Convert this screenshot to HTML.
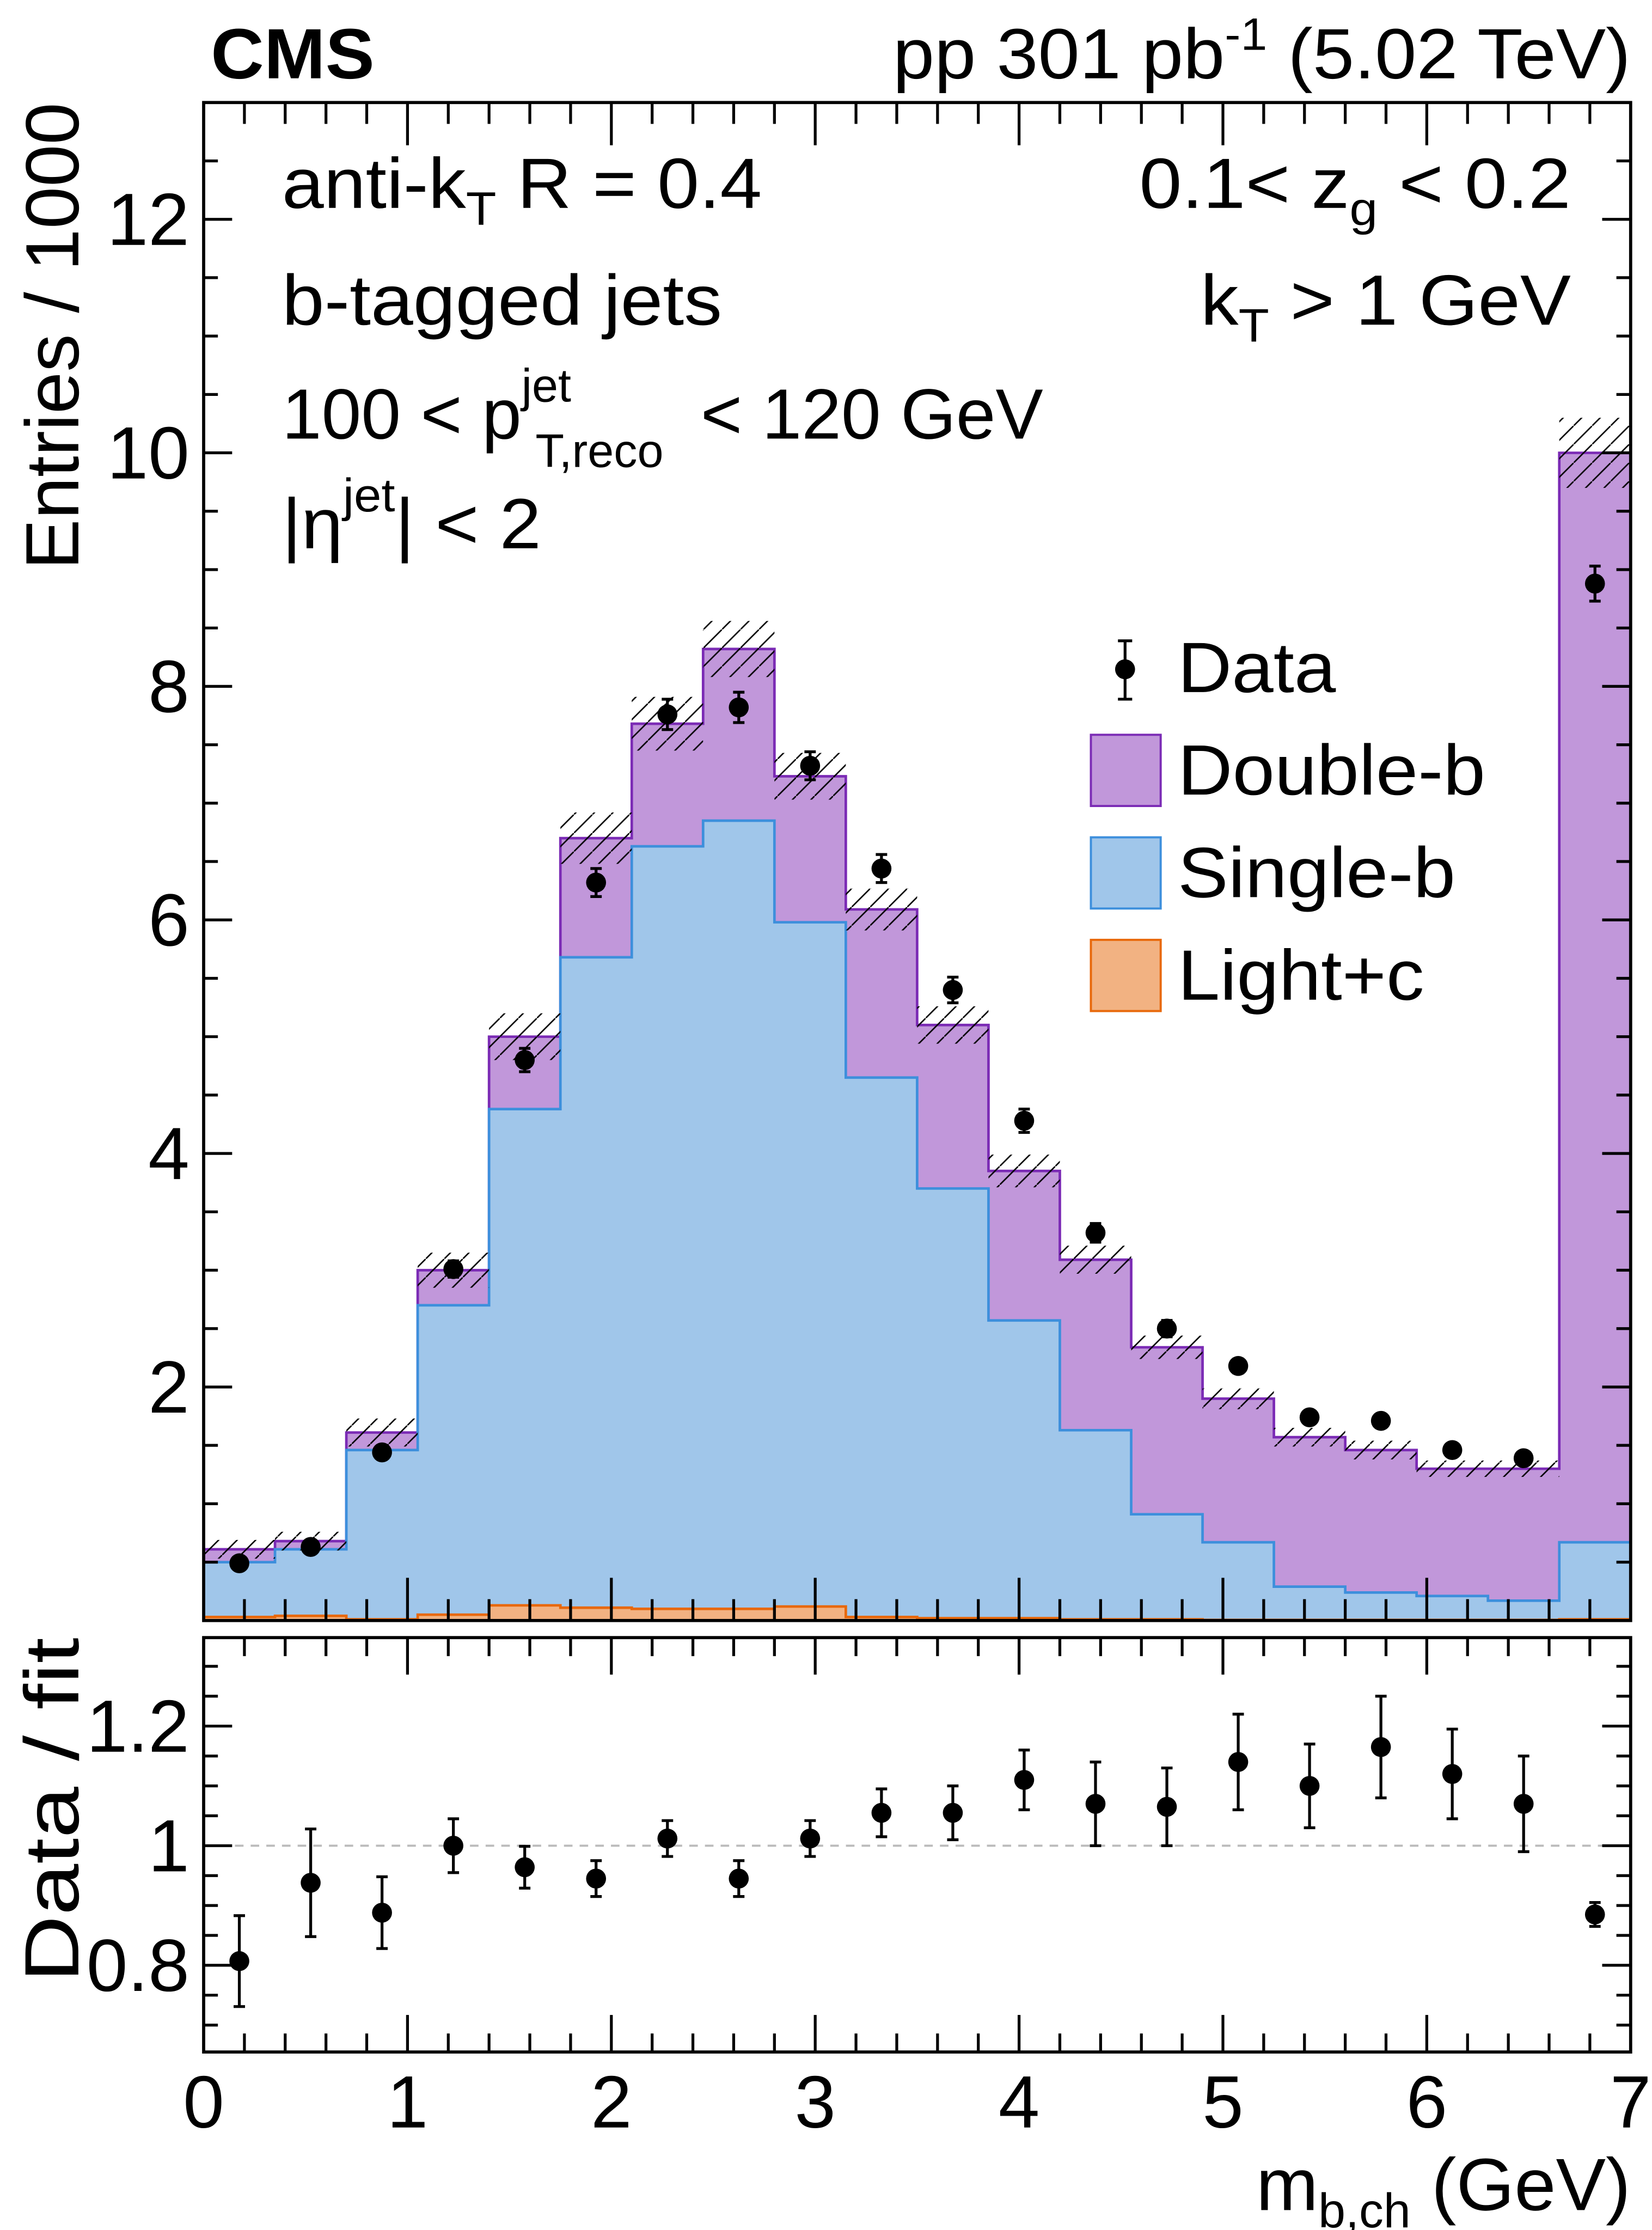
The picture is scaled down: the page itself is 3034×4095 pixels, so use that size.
<!DOCTYPE html>
<html><head><meta charset="utf-8">
<style>
html,body{margin:0;padding:0;background:#fff;}
svg{display:block;font-family:"Liberation Sans",Arial,sans-serif;}
</style></head>
<body>
<svg id="chart" width="3034" height="4095" viewBox="0 0 1160 1566" preserveAspectRatio="none" xmlns="http://www.w3.org/2000/svg">
<defs>
<pattern id="hatch" patternUnits="userSpaceOnUse" width="13" height="13">
<line x1="0" y1="13" x2="13" y2="0" stroke="#000" stroke-width="1"/>
</pattern>
</defs>
<g id="main"></g>
<g id="ratio"></g>
<g id="texts">
<text x="148" y="55" font-size="50" font-weight="bold" textLength="115" lengthAdjust="spacingAndGlyphs">CMS</text>
<text x="627" y="55" font-size="50" textLength="518" lengthAdjust="spacingAndGlyphs">pp 301 pb<tspan dy="-20" font-size="32">-1</tspan><tspan dy="20"> (5.02 TeV)</tspan></text>
<text transform="translate(55,400) rotate(-90)" font-size="53" textLength="328" lengthAdjust="spacingAndGlyphs">Entries / 1000</text>
<text transform="translate(55,1392) rotate(-90)" font-size="54" textLength="242" lengthAdjust="spacingAndGlyphs">Data / fit</text>
<text x="882" y="1552" font-size="52" textLength="263" lengthAdjust="spacingAndGlyphs">m<tspan dy="12" font-size="34">b,ch</tspan><tspan dy="-12"> (GeV)</tspan></text>
<text x="198" y="146" font-size="50" textLength="337" lengthAdjust="spacingAndGlyphs">anti-k<tspan dy="12" font-size="33">T</tspan><tspan dy="-12"> R = 0.4</tspan></text>
<text x="198" y="228" font-size="50" textLength="309" lengthAdjust="spacingAndGlyphs">b-tagged jets</text>
<text x="198" y="308" font-size="50">100 &lt; p<tspan dy="-26" font-size="33">jet</tspan><tspan x="376" dy="46" font-size="33">T,reco</tspan><tspan x="492" dy="-20">&lt; 120 GeV</tspan></text>
<text x="198" y="385" font-size="50" textLength="182" lengthAdjust="spacingAndGlyphs">|η<tspan dy="-26" font-size="33">jet</tspan><tspan dy="26">| &lt; 2</tspan></text>
<text x="800" y="146" font-size="50" textLength="303" lengthAdjust="spacingAndGlyphs">0.1&lt; z<tspan dy="12" font-size="33">g</tspan><tspan dy="-12"> &lt; 0.2</tspan></text>
<text x="843" y="228" font-size="50" textLength="260" lengthAdjust="spacingAndGlyphs">k<tspan dy="12" font-size="33">T</tspan><tspan dy="-12"> &gt; 1 GeV</tspan></text>
</g>
<g id="legend">
<g>
<line x1="790" y1="450" x2="790" y2="491" stroke="#000" stroke-width="2"/>
<line x1="785" y1="450" x2="795" y2="450" stroke="#000" stroke-width="2"/>
<line x1="785" y1="491" x2="795" y2="491" stroke="#000" stroke-width="2"/>
<circle cx="790" cy="470" r="7" fill="#000"/>
<text x="827" y="486" font-size="50" textLength="111" lengthAdjust="spacingAndGlyphs">Data</text></g>
<g>
<rect x="766" y="516" width="49" height="50" fill="#c197da" stroke="#7b2bb5" stroke-width="1.5"/>
<text x="827" y="558" font-size="50" textLength="216" lengthAdjust="spacingAndGlyphs">Double-b</text></g>
<g>
<rect x="766" y="588" width="49" height="50" fill="#a0c6ea" stroke="#3d8fdc" stroke-width="1.5"/>
<text x="827" y="630" font-size="50" textLength="195" lengthAdjust="spacingAndGlyphs">Single-b</text></g>
<g>
<rect x="766" y="660" width="49" height="50" fill="#f2b282" stroke="#e8680a" stroke-width="1.5"/>
<text x="827" y="702" font-size="50" textLength="173" lengthAdjust="spacingAndGlyphs">Light+c</text></g>
</g>
</svg>
<script>
const binEdgesMin = 0, binWidth = 0.35;
const totalMC = [0.61,0.68,1.61,3.0,5.0,6.7,7.68,8.32,7.23,6.09,5.1,3.85,3.09,2.34,1.9,1.57,1.46,1.30,1.30,10.0];
const singleB = [0.5,0.61,1.46,2.7,4.38,5.68,6.63,6.85,5.98,4.65,3.7,2.57,1.63,0.91,0.67,0.29,0.24,0.21,0.17,0.67];
const lightC = [0.03,0.04,0.01,0.05,0.13,0.11,0.1,0.1,0.12,0.03,0.02,0.02,0.01,0.01,0.005,0.005,0.005,0.005,0.005,0.01];
const mcUnc = [0.08,0.08,0.12,0.15,0.2,0.22,0.23,0.24,0.2,0.18,0.16,0.14,0.12,0.1,0.09,0.08,0.08,0.07,0.07,0.3];
const dataVals = [0.49,0.63,1.44,3.01,4.8,6.32,7.76,7.82,7.32,6.44,5.4,4.28,3.32,2.5,2.18,1.74,1.71,1.46,1.39,8.88];
const dataErr = [0.03,0.03,0.05,0.07,0.1,0.12,0.13,0.13,0.12,0.12,0.11,0.1,0.08,0.07,0.06,0.05,0.05,0.05,0.05,0.15];
const ratioVals = [0.807,0.938,0.888,1.0,0.964,0.945,1.012,0.945,1.012,1.055,1.055,1.11,1.07,1.065,1.14,1.1,1.165,1.12,1.07,0.885];
const ratioErr = [0.076,0.09,0.06,0.045,0.035,0.03,0.03,0.03,0.03,0.04,0.045,0.05,0.07,0.065,0.08,0.07,0.085,0.075,0.08,0.02];
const mainYTicks = ["2","4","6","8","10","12"];
const ratioYTicks = ["0.8","1","1.2"];
const xTicks = ["0","1","2","3","4","5","6","7"];

const NS = "http://www.w3.org/2000/svg";
const X0 = 143, X1 = 1145;
const xs = v => X0 + (v - 0) * (X1 - X0) / 7;
const M_TOP = 72, M_BOT = 1138;
const ys = v => M_BOT - (v / 13.0) * (M_BOT - M_TOP);
const R_TOP = 1150, R_BOT = 1441, R_MIN = 0.655, R_MAX = 1.348;
const yr = v => R_BOT - (v - R_MIN) / (R_MAX - R_MIN) * (R_BOT - R_TOP);
function el(tag, attrs, parent) {
  const e = document.createElementNS(NS, tag);
  for (const k in attrs) e.setAttribute(k, attrs[k]);
  parent.appendChild(e);
  return e;
}
const main = document.getElementById('main');
const ratio = document.getElementById('ratio');
const n = totalMC.length;
function stepPath(vals, yfun) {
  let d = `M${xs(0)},${yfun(0)}`;
  for (let i = 0; i < n; i++) {
    const a = xs(binEdgesMin + i * binWidth), b = xs(binEdgesMin + (i + 1) * binWidth);
    d += ` L${a},${yfun(vals[i])} L${b},${yfun(vals[i])}`;
  }
  d += ` L${xs(binEdgesMin + n * binWidth)},${yfun(0)} Z`;
  return d;
}
const pTot = el('path', {d: stepPath(totalMC, ys), fill: '#c197da', stroke: '#7b2bb5', 'stroke-width': 1.8}, main);


const pSing = el('path', {d: stepPath(singleB, ys), fill: '#a0c6ea', stroke: '#3d8fdc', 'stroke-width': 1.8}, main);


const pLight = el('path', {d: stepPath(lightC, ys), fill: '#f2b282', stroke: '#e8680a', 'stroke-width': 1.8}, main);


for (let i = 0; i < n; i++) {
  const a = xs(i * binWidth), b = xs((i + 1) * binWidth);
  const r = el('rect', {x: a, y: ys(totalMC[i] + mcUnc[i]), width: b - a, height: ys(totalMC[i] - mcUnc[i]) - ys(totalMC[i] + mcUnc[i]), fill: 'url(#hatch)'}, main);
  
  
}
for (let i = 0; i < n; i++) {
  const cx = xs((i + 0.5) * binWidth);
  const g = el('g', {}, main);
  
  
  el('line', {x1: cx, x2: cx, y1: ys(dataVals[i] + dataErr[i]), y2: ys(dataVals[i] - dataErr[i]), stroke: '#000', 'stroke-width': 2}, g);
  el('line', {x1: cx - 4, x2: cx + 4, y1: ys(dataVals[i] + dataErr[i]), y2: ys(dataVals[i] + dataErr[i]), stroke: '#000', 'stroke-width': 2}, g);
  el('line', {x1: cx - 4, x2: cx + 4, y1: ys(dataVals[i] - dataErr[i]), y2: ys(dataVals[i] - dataErr[i]), stroke: '#000', 'stroke-width': 2}, g);
  el('circle', {cx: cx, cy: ys(dataVals[i]), r: 7, fill: '#000'}, g);
}
const f1 = el('rect', {x: X0, y: M_TOP, width: X1 - X0, height: M_BOT - M_TOP, fill: 'none', stroke: '#000', 'stroke-width': 2.2}, main);


for (let v = 0.5; v < 13; v += 0.5) {
  const major = Math.abs(v % 2) < 1e-6;
  const L = major ? 20 : 10;
  el('line', {x1: X0, x2: X0 + L, y1: ys(v), y2: ys(v), stroke: '#000', 'stroke-width': 2}, main);
  el('line', {x1: X1, x2: X1 - L, y1: ys(v), y2: ys(v), stroke: '#000', 'stroke-width': 2}, main);
}
mainYTicks.forEach(t => {
  const tx = el('text', {x: 133, y: ys(parseFloat(t)) + 18, 'font-size': 52, 'text-anchor': 'end'}, main);
  tx.textContent = t;
  
  
});
for (let k = 1; k < 35; k++) {
  const v = k * 0.2;
  const major = k % 5 === 0;
  const L = major ? 30 : 15;
  el('line', {x1: xs(v), x2: xs(v), y1: M_BOT, y2: M_BOT - L, stroke: '#000', 'stroke-width': 2}, main);
  el('line', {x1: xs(v), x2: xs(v), y1: M_TOP, y2: M_TOP + L, stroke: '#000', 'stroke-width': 2}, main);
  const L2 = major ? 26 : 13;
  el('line', {x1: xs(v), x2: xs(v), y1: R_BOT, y2: R_BOT - L2, stroke: '#000', 'stroke-width': 2}, ratio);
  el('line', {x1: xs(v), x2: xs(v), y1: R_TOP, y2: R_TOP + L2, stroke: '#000', 'stroke-width': 2}, ratio);
}
xTicks.forEach(t => {
  const tx = el('text', {x: xs(parseFloat(t)), y: 1494, 'font-size': 52, 'text-anchor': 'middle'}, ratio);
  tx.textContent = t;
  
  
});
const dl = el('line', {x1: X0, x2: X1, y1: yr(1), y2: yr(1), stroke: '#bbb', 'stroke-width': 1.5, 'stroke-dasharray': '6,5'}, ratio);


for (let i = 0; i < n; i++) {
  const cx = xs((i + 0.5) * binWidth);
  const g = el('g', {}, ratio);
  
  
  const t = yr(ratioVals[i] + ratioErr[i]), b = yr(ratioVals[i] - ratioErr[i]);
  el('line', {x1: cx, x2: cx, y1: t, y2: b, stroke: '#000', 'stroke-width': 2}, g);
  el('line', {x1: cx - 4, x2: cx + 4, y1: t, y2: t, stroke: '#000', 'stroke-width': 2}, g);
  el('line', {x1: cx - 4, x2: cx + 4, y1: b, y2: b, stroke: '#000', 'stroke-width': 2}, g);
  el('circle', {cx: cx, cy: yr(ratioVals[i]), r: 7, fill: '#000'}, g);
}
for (let k = 14; k <= 26; k++) {
  const v = k * 0.05;
  if (v < R_MIN || v > R_MAX) continue;
  const major = k % 4 === 0;
  const L = major ? 20 : 10;
  el('line', {x1: X0, x2: X0 + L, y1: yr(v), y2: yr(v), stroke: '#000', 'stroke-width': 2}, ratio);
  el('line', {x1: X1, x2: X1 - L, y1: yr(v), y2: yr(v), stroke: '#000', 'stroke-width': 2}, ratio);
}
ratioYTicks.forEach(t => {
  const tx = el('text', {x: 133, y: yr(parseFloat(t)) + 18, 'font-size': 52, 'text-anchor': 'end'}, ratio);
  tx.textContent = t;
  
  
});
const f2 = el('rect', {x: X0, y: R_TOP, width: X1 - X0, height: R_BOT - R_TOP, fill: 'none', stroke: '#000', 'stroke-width': 2.2}, ratio);


</script>
</body></html>
